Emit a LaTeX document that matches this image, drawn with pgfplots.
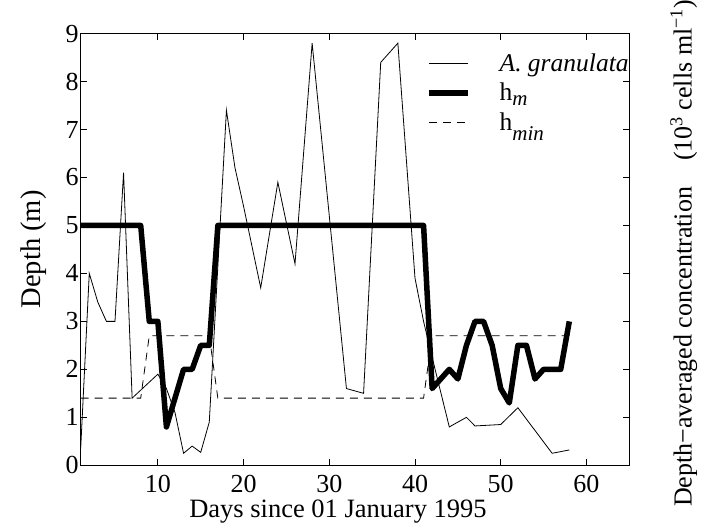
\documentclass[border=0pt]{standalone}
\usepackage{fontspec}
\setmainfont{Liberation Serif}
\usepackage{pgfplots}
\pgfplotsset{compat=1.18}
\usetikzlibrary{calc}

\pgfplotstableread{
day conc
1 0.35
2 4.0
3 3.4
4 3.0
5 3.0
6 6.1
7 1.4
10 1.9
11 1.6
12 1.1
13 0.25
14 0.4
15 0.27
16 0.9
18 7.4
19 6.2
20 5.4
22 3.7
24 5.9
26 4.2
28 8.8
32 1.6
34 1.5
36 8.4
38 8.8
40 3.9
41 3.0
42 2.25
44 0.8
46 1.0
47 0.82
50 0.85
52 1.2
56 0.25
58 0.32
}\granulata

\pgfplotstableread{
day hm
1 5
8 5
9 3
10 3
11 0.8
13 2
14 2
15 2.5
16 2.5
17 5
41 5
42 1.6
44 2.0
45 1.8
46 2.5
47 3.0
48 3.0
49 2.5
50 1.6
51 1.3
52 2.5
53 2.5
54 1.8
55 2.0
57 2.0
58 3.0
}\hmix

\pgfplotstableread{
day hmin
1 1.4
8 1.4
9 2.7
16 2.7
17 1.4
41 1.4
42 2.7
58 2.7
}\hmin

\begin{document}
\begin{tikzpicture}
\begin{axis}[
  name=ax,
  scale only axis,
  width=548.6pt, height=431.7pt,
  xmin=1, xmax=65, ymin=0, ymax=9,
  xtick={10,20,30,40,50,60},
  ytick={0,1,...,9},
  axis line style={line width=0.9pt},
  tick style={line width=0.8pt, black},
  major tick length=6pt,
  /pgf/number format/assume math mode=true,
  tick label style={font=\fontsize{26}{28}\selectfont},
  yticklabel style={inner sep=2pt},
  xticklabel style={anchor=base, yshift=-27pt, inner sep=0pt},
  xlabel={Days since 01 January 1995},
  xlabel style={font=\fontsize{26.5}{28}\selectfont, at={(axis description cs:0.469,0)}, anchor=base, yshift=-52pt, inner sep=0pt},
  ylabel={Depth (m)},
  ylabel style={font=\fontsize{28.5}{30}\selectfont, at={(axis description cs:-0.0724,0.5)}, anchor=base, rotate=0, inner sep=0pt},
  legend style={draw=none, fill=none, inner sep=0pt, at={(rel axis cs:0.6294,0.953)}, anchor=north west,
    font=\fontsize{25.5}{28}\selectfont, row sep=10pt,
    nodes={inner sep=0pt},
    /tikz/every odd column/.append style={column sep=29pt}},
  legend cell align=left,
  legend image code/.code={\draw[#1] (0pt,0pt) -- (39pt,0pt);},
]
\addplot[black, line width=0.8pt] table[x=day, y=conc] {\granulata};
\addlegendentry{\textit{A. granulata}}
\addplot[black, line width=5.5pt, line join=round] table[x=day, y=hm] {\hmix};
\addlegendentry{h\raisebox{-5pt}{\fontsize{21}{21}\selectfont\itshape m}}
\addplot[black, line width=0.8pt, dash pattern=on 8pt off 6pt] table[x=day, y=hmin] {\hmin};
\addlegendentry{h\raisebox{-10pt}{\fontsize{21}{21}\selectfont\itshape min}}
\end{axis}
\node[rotate=90, anchor=base, inner sep=0pt, font=\fontsize{26}{28}\selectfont]
  at ($(ax.east)+(62.2pt,-4pt)$) {Depth−averaged concentration\quad(10\textsuperscript{3} cells ml\textsuperscript{−1})};
\useasboundingbox ($(ax.south west)+(-80.7pt,-56pt)$) rectangle ($(ax.north east)+(72.7pt,32.3pt)$);
\end{tikzpicture}
\end{document}
